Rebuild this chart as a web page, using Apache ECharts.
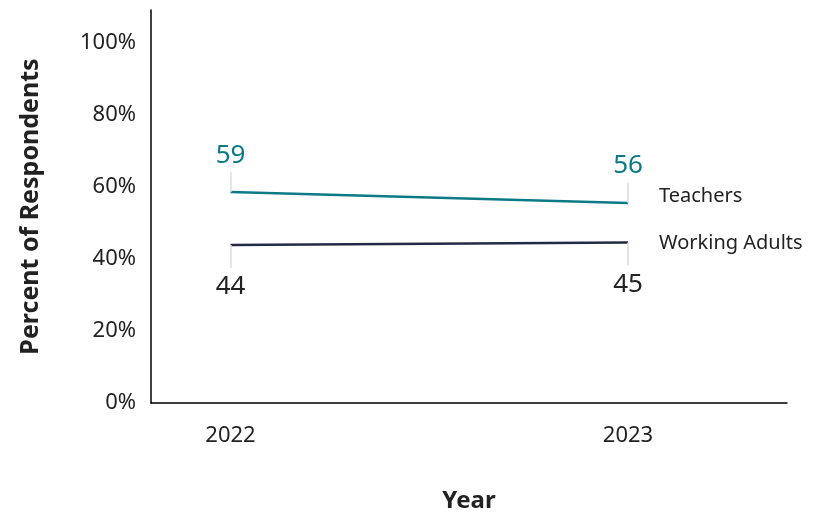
<!DOCTYPE html>
<html><head><meta charset="utf-8">
<script src="https://cdn.jsdelivr.net/npm/echarts@6/dist/echarts.min.js"></script>
<style>html,body{margin:0;padding:0;background:#fff}#c{width:817px;height:513px}</style>
</head><body><div id="c"></div>
<script>
const years = [2022, 2023];
const teachers = [58.6, 55.6];
const workingAdults = [43.9, 44.6];
const yTicks = [0, 20, 40, 60, 80, 100];
const seriesNames = ['Teachers', 'Working Adults'];

const TEAL = '#0B7A86', NAVY = '#232A45', TXT = '#222222', FONT = 'Noto Sans';
const chart = echarts.init(document.getElementById('c'));
const pairs = (vals) => years.map((y, i) => [y, vals[i]]);
chart.setOption({
  animation: false,
  grid: {left: 151, right: 30, top: 10, bottom: 110, outerBoundsMode: 'none', containLabel: false},
  xAxis: {
    type: 'value', min: 2021.8, max: 2023.4, interval: 0.2,
    name: 'Year', nameLocation: 'middle', nameGap: 86,
    nameTextStyle: {fontFamily: FONT, fontSize: 24, fontWeight: 'bold', color: TXT},
    axisLine: {lineStyle: {color: '#000', width: 1.5}},
    axisTick: {show: false}, splitLine: {show: false},
    axisLabel: {customValues: years, fontFamily: FONT, fontSize: 22, color: TXT, margin: 22,
      formatter: v => String(Math.round(v))}
  },
  yAxis: {
    type: 'value', min: 0, max: 109.2, interval: 20,
    name: 'Percent of Respondents', nameLocation: 'middle', nameGap: 108,
    nameTextStyle: {fontFamily: FONT, fontSize: 25, fontWeight: 'bold', color: TXT},
    axisLine: {show: true, lineStyle: {color: '#000', width: 1.5}},
    axisTick: {show: false}, splitLine: {show: false},
    axisLabel: {customValues: yTicks, fontFamily: FONT, fontSize: 22, color: TXT, margin: 15,
      formatter: v => v + '%'}
  },
  series: [
    {
      name: seriesNames[0], type: 'line', data: pairs(teachers),
      symbol: 'circle', symbolSize: 0, showSymbol: true,
      lineStyle: {color: TEAL, width: 2.5}, itemStyle: {color: TEAL},
      label: {show: true, position: 'top', distance: 24, fontFamily: FONT, fontSize: 26, color: TEAL,
        formatter: p => String(Math.round(p.value[1]))},
      endLabel: {show: true, distance: 31, offset: [0, -7], fontFamily: FONT, fontSize: 20, color: TXT,
        formatter: p => p.seriesName},
      markLine: {silent: true, symbol: 'none', label: {show: false},
        lineStyle: {color: '#DDDDDD', width: 1.5, type: 'solid'},
        data: years.map((y, i) => [{coord: [y, teachers[i]]}, {coord: [y, teachers[i] + 5.5]}])}
    },
    {
      name: seriesNames[1], type: 'line', data: pairs(workingAdults),
      symbol: 'circle', symbolSize: 0, showSymbol: true,
      lineStyle: {color: NAVY, width: 2.5}, itemStyle: {color: NAVY},
      label: {show: true, position: 'bottom', distance: 29, fontFamily: FONT, fontSize: 26, color: TXT,
        formatter: p => String(Math.round(p.value[1]))},
      endLabel: {show: true, distance: 31, offset: [0, 1], fontFamily: FONT, fontSize: 20, color: TXT,
        formatter: p => p.seriesName},
      markLine: {silent: true, symbol: 'none', label: {show: false},
        lineStyle: {color: '#DDDDDD', width: 1.5, type: 'solid'},
        data: years.map((y, i) => [{coord: [y, workingAdults[i]]}, {coord: [y, workingAdults[i] - 6.4]}])}
    }
  ]
});
</script></body></html>
